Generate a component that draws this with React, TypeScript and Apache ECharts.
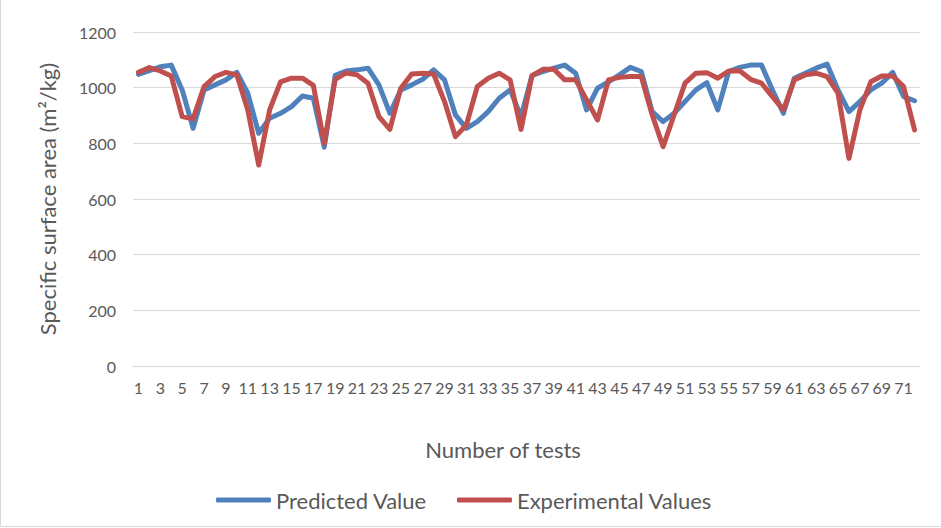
import React, { useEffect, useRef } from "react";
import * as echarts from "echarts";

const categories: string[] = Array.from({ length: 72 }, (_, i) => String(i + 1));

const predictedValues: number[] = [
  1048, 1061, 1075, 1081, 992, 854, 992, 1010, 1028, 1055,
  980, 836, 890, 908, 932, 970, 962, 786, 1044, 1060,
  1064, 1070, 1010, 908, 992, 1010, 1030, 1064, 1028, 902,
  854, 878, 914, 962, 992, 896, 1043, 1058, 1070, 1081,
  1052, 920, 998, 1021, 1046, 1073, 1058, 914, 878, 908,
  950, 992, 1018, 920, 1058, 1073, 1081, 1081, 992, 908,
  1034, 1052, 1070, 1085, 992, 914, 950, 992, 1016, 1055,
  968, 953,
];

const experimentalValues: number[] = [
  1055, 1072, 1060, 1042, 896, 888, 1004, 1040, 1055, 1046,
  920, 722, 920, 1021, 1034, 1034, 1008, 800, 1030, 1053,
  1046, 1016, 896, 850, 998, 1049, 1052, 1049, 950, 824,
  866, 1004, 1034, 1052, 1028, 850, 1043, 1066, 1066, 1028,
  1028, 956, 884, 1028, 1037, 1040, 1040, 902, 788, 902,
  1016, 1052, 1054, 1034, 1060, 1061, 1030, 1016, 968, 920,
  1028, 1046, 1052, 1040, 980, 746, 920, 1021, 1042, 1042,
  1004, 848,
];

const seriesNames: string[] = ["Predicted Value", "Experimental Values"];
const yTitle = "Specific surface area (m²/kg)";
const xTitle = "Number of tests";

const FONT = "Lato, 'Open Sans', sans-serif";
const TEXT = "#595959";

export default function App() {
  const ref = useRef<HTMLDivElement>(null);

  useEffect(() => {
    if (!ref.current) return;
    const chart = echarts.init(ref.current, undefined, { renderer: "svg" });
    chart.setOption({
      animation: false,
      backgroundColor: "#ffffff",
      textStyle: { fontFamily: FONT },
      grid: { left: 133, right: 21, top: 32, bottom: 162 },
      legend: {
        left: 211,
        top: 484,
        itemWidth: 55,
        itemHeight: 5,
        itemGap: 30,
        icon: "roundRect",
        textStyle: { fontSize: 22, color: TEXT, fontFamily: FONT },
        data: seriesNames,
      },
      xAxis: {
        type: "category",
        data: categories,
        boundaryGap: true,
        axisLine: { show: true, lineStyle: { color: "#d9d9d9", width: 1 } },
        axisTick: { show: false },
        axisLabel: { interval: 1, color: TEXT, fontSize: 16, margin: 13, fontFamily: FONT },
        splitLine: { show: false },
      },
      yAxis: {
        type: "value",
        min: 0,
        max: 1200,
        interval: 200,
        name: yTitle,
        nameLocation: "middle",
        nameGap: 75,
        nameTextStyle: { fontSize: 22, color: TEXT, fontFamily: FONT },
        axisLine: { show: false },
        axisTick: { show: false },
        axisLabel: {
          color: TEXT,
          fontSize: 16,
          margin: 17,
          fontFamily: FONT,
          formatter: (v: number) => String(v),
        },
        splitLine: { show: true, lineStyle: { color: "#d9d9d9", width: 1 } },
      },
      graphic: [
        {
          type: "text",
          x: 503,
          y: 449,
          style: {
            text: xTitle,
            fontSize: 22,
            fill: TEXT,
            fontFamily: FONT,
            align: "center",
            verticalAlign: "middle",
          },
        },
        {
          type: "polyline",
          shape: { points: [[0.5, 0], [0.5, 526.5], [941, 526.5]] },
          style: { stroke: "#d9d9d9", fill: "none", lineWidth: 1 },
          silent: true,
        },
      ],
      series: [
        {
          name: seriesNames[0],
          type: "line",
          data: predictedValues,
          symbol: "none",
          color: "#4F81BD",
          lineStyle: { width: 5, color: "#4F81BD", join: "round", cap: "round" },
        },
        {
          name: seriesNames[1],
          type: "line",
          data: experimentalValues,
          symbol: "none",
          color: "#C0504D",
          lineStyle: { width: 5, color: "#C0504D", join: "round", cap: "round" },
        },
      ],
    });
    return () => chart.dispose();
  }, []);

  return (
    <div
      ref={ref}
      style={{ position: "fixed", left: 0, top: 0, width: 941, height: 528 }}
    />
  );
}
